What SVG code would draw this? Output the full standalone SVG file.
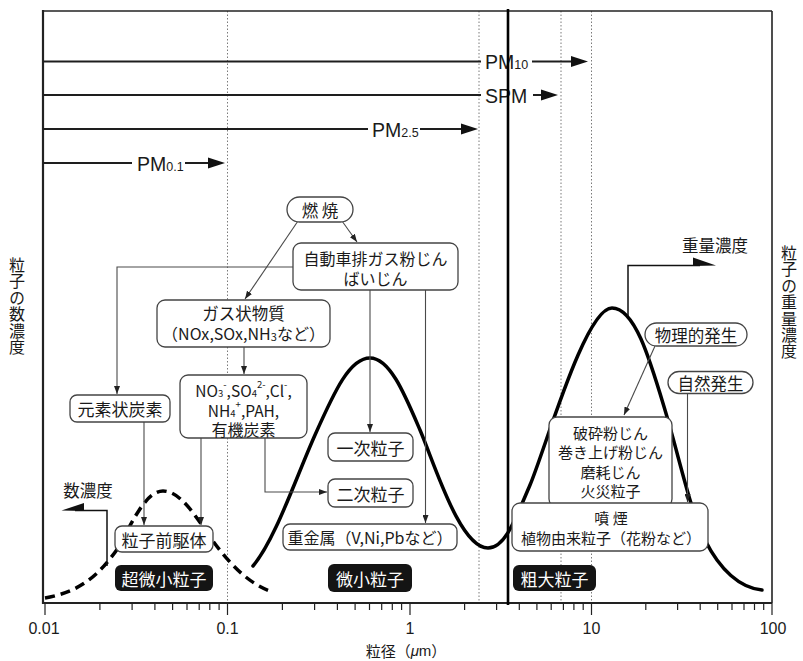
<svg xmlns="http://www.w3.org/2000/svg" width="803" height="661" viewBox="0 0 803 661">
<style>
.bg{fill:#fff}
.box{fill:#fff;stroke:#444;stroke-width:1.3}
.blk{fill:#141414}
.jp{font-family:"Noto Sans CJK JP","Noto Sans",sans-serif;fill:#1a1a1a;text-anchor:middle;dominant-baseline:central}
.w{fill:#fff}
.con{fill:none;stroke:#4a4a4a;stroke-width:1.1}
.dot{stroke:#7a7a7a;stroke-width:1;stroke-dasharray:1.5 2}
.pm{font-family:"Liberation Sans",Arial,sans-serif;font-size:19.5px;fill:#1a1a1a}
.pl{stroke:#1e1e1e;stroke-width:2}
.ax{fill:none;stroke:#222;stroke-width:1.6}
.tick{stroke:#222;stroke-width:1.2}
.num{font-family:"Liberation Sans",Arial,sans-serif;font-size:16px;fill:#1a1a1a;text-anchor:middle}
.curve{fill:none;stroke:#000;stroke-width:3.5;stroke-linecap:round}
.dash{fill:none;stroke:#000;stroke-width:3.5;stroke-dasharray:10 6}
.vt{font-family:"Noto Sans CJK JP","Noto Sans",sans-serif;fill:#1a1a1a;font-size:16px;writing-mode:vertical-rl;letter-spacing:0.4px}
</style>
<defs>
<marker id="ah" viewBox="0 0 8 6" refX="8" refY="3" markerWidth="8" markerHeight="6" orient="auto" markerUnits="userSpaceOnUse">
<path d="M0,0 L8,3 L0,6 z" fill="#222"/>
</marker>
</defs>
<rect class="bg" x="0" y="0" width="803" height="661"/>

<g id="grid">
<line class="dot" x1="227.5" y1="11" x2="227.5" y2="603"/>
<line class="dot" x1="479" y1="11" x2="479" y2="603"/>
<line class="dot" x1="561" y1="11" x2="561" y2="603"/>
<line class="dot" x1="591.5" y1="11" x2="591.5" y2="603"/>
</g>

<g id="frame">
<line class="ax" x1="43" y1="11" x2="772" y2="11"/>
<line class="ax" x1="772" y1="11" x2="772" y2="603"/>
<line x1="43" y1="10" x2="43" y2="604" stroke="#222" stroke-width="2.2"/>
<line x1="43" y1="603" x2="772" y2="603" stroke="#222" stroke-width="2"/>
</g>

<g id="ticks">
<path class="tick" d="M45,603V615M227.5,603V615M410,603V615M591.5,603V615M772,603V615"/>
<path class="tick" d="M99.9,603V610M132.1,603V610M154.9,603V610M172.6,603V610M187,603V610M199.2,603V610M209.8,603V610M219.1,603V610
M282.4,603V610M314.6,603V610M337.4,603V610M355.1,603V610M369.5,603V610M381.7,603V610M392.3,603V610M401.6,603V610
M464.6,603V610M496.6,603V610M519.3,603V610M536.9,603V610M551.2,603V610M563.4,603V610M573.9,603V610M583.2,603V610
M645.8,603V610M677.6,603V610M700.2,603V610M717.7,603V610M732,603V610M744,603V610M754.5,603V610M763.7,603V610"/>
<text class="num" x="44" y="634">0.01</text>
<text class="num" x="227.5" y="634">0.1</text>
<text class="num" x="410" y="634">1</text>
<text class="num" x="591.5" y="634">10</text>
<text class="num" x="773" y="634">100</text>
<text class="jp" x="406" y="650" font-size="15">粒径（<tspan font-style="italic" font-family="Liberation Sans, sans-serif">μ</tspan><tspan font-family="Liberation Sans, sans-serif">m</tspan>）</text>
</g>

<g id="ylabels">
<text class="vt" x="17" y="257">粒子の数濃度</text>
<text class="vt" x="789" y="245">粒子の重量濃度</text>
</g>

<g id="pm-ranges">
<line class="pl" x1="43" y1="61.5" x2="481" y2="61.5"/>
<text class="pm" x="485" y="69">PM<tspan font-size="12.5">10</tspan></text>
<line class="pl" x1="532" y1="61.5" x2="572" y2="61.5"/>
<polygon points="571,56 588,61.5 571,67" fill="#111"/>
<line class="pl" x1="43" y1="95" x2="481" y2="95"/>
<text class="pm" x="485" y="102.5">SPM</text>
<line class="pl" x1="533" y1="95" x2="542" y2="95"/>
<polygon points="541,89.5 558,95 541,100.5" fill="#111"/>
<line class="pl" x1="43" y1="129" x2="368" y2="129"/>
<text class="pm" x="372" y="136.5">PM<tspan font-size="12.5">2.5</tspan></text>
<line class="pl" x1="420" y1="129" x2="462" y2="129"/>
<polygon points="461,123.5 478,129 461,134.5" fill="#111"/>
<line class="pl" x1="43" y1="163" x2="132" y2="163"/>
<text class="pm" x="137" y="170.5">PM<tspan font-size="12.5">0.1</tspan></text>
<line class="pl" x1="185" y1="163" x2="209" y2="163"/>
<polygon points="208,157.5 225,163 208,168.5" fill="#111"/>
</g>

<g id="curves">
<path class="curve" d="M253,566 C275,540 295,480 315,435 C335,390 350,358 370,358 C390,358 405,395 420,430 C435,465 460,548 488,548 C505,548 515,520 530,485 C545,450 585,308 612,308 C635,308 650,360 665,410 C680,460 690,510 705,540 C720,570 740,588 762,590"/>
<path class="dash" d="M45,598 C80,592 100,575 120,545 C135,515 148,491 163,491 C180,491 195,515 210,537 C230,565 250,585 273,592"/>
</g>

<g id="thick-divider">
<line x1="508" y1="9" x2="508" y2="605" stroke="#000" stroke-width="2.6"/>
</g>

<g id="connectors">
<line class="con" x1="298" y1="221" x2="245" y2="299" marker-end="url(#ah)"/>
<line class="con" x1="342" y1="221" x2="357" y2="242" marker-end="url(#ah)"/>
<path class="con" d="M293,267 H117 V394" marker-end="url(#ah)"/>
<line class="con" x1="244" y1="347" x2="244" y2="374" marker-end="url(#ah)"/>
<line class="con" x1="370" y1="290" x2="370" y2="432" marker-end="url(#ah)"/>
<line class="con" x1="425.5" y1="290" x2="425.5" y2="523" marker-end="url(#ah)"/>
<line class="con" x1="144" y1="422" x2="144" y2="525" marker-end="url(#ah)"/>
<line class="con" x1="201" y1="438" x2="201" y2="525" marker-end="url(#ah)"/>
<path class="con" d="M265,438 V492 H327" marker-end="url(#ah)"/>
<line class="con" x1="655" y1="346" x2="624" y2="415" marker-end="url(#ah)"/>
<line class="con" x1="687.5" y1="393" x2="687.5" y2="502" marker-end="url(#ah)"/>
<path fill="none" stroke="#111" stroke-width="1.5" d="M628,316 V265.5 H700"/>
<polygon points="693,257.5 716,265.5 693,266" fill="#111"/>
<path fill="none" stroke="#111" stroke-width="1.5" d="M107,566 V510.5 H75"/>
<polygon points="84,503 61.5,510.5 84,511" fill="#111"/>
</g>

<g id="n-nensho"><rect class="box" x="287" y="197" width="66" height="25" rx="12.5"/><text class="jp" x="320" y="209.5" font-size="16.5">燃 焼</text></g>
<g id="n-jidosha"><rect class="box" x="293" y="243" width="165" height="47" rx="8"/><text class="jp" x="375.5" y="258" font-size="16">自動車排ガス粉じん</text><text class="jp" x="375.5" y="278" font-size="16">ばいじん</text></g>
<g id="n-gas"><rect class="box" x="157" y="300" width="173" height="47" rx="8"/><text class="jp" x="243.5" y="313" font-size="16.5">ガス状物質</text><text class="jp" x="243.5" y="333" font-size="16">（NOx,SOx,NH<tspan font-size="11" baseline-shift="-3">3</tspan>など）</text></g>
<g id="n-ions"><rect class="box" x="180" y="375" width="127" height="63" rx="8"/>
<text class="jp" x="243.5" y="390" font-size="15.5">NO<tspan font-size="9.5" baseline-shift="-3">3</tspan><tspan font-size="9.5" baseline-shift="6">-</tspan>,SO<tspan font-size="9.5" baseline-shift="-3">4</tspan><tspan font-size="9.5" baseline-shift="6">2-</tspan>,Cl<tspan font-size="9.5" baseline-shift="6">-</tspan>,</text>
<text class="jp" x="243.5" y="410" font-size="15.5">NH<tspan font-size="9.5" baseline-shift="-3">4</tspan><tspan font-size="9.5" baseline-shift="6">+</tspan>,PAH,</text>
<text class="jp" x="243.5" y="429" font-size="16">有機炭素</text></g>
<g id="n-genso"><rect class="box" x="70" y="395" width="100" height="27" rx="7"/><text class="jp" x="120" y="408.5" font-size="17">元素状炭素</text></g>
<g id="n-zenkutai"><rect class="box" x="115" y="526" width="98" height="26" rx="7"/><text class="jp" x="164" y="539" font-size="17">粒子前駆体</text></g>
<g id="n-chobisho"><rect class="blk" x="115" y="565" width="98" height="26" rx="6"/><text class="jp w" x="164" y="578" font-size="17">超微小粒子</text></g>
<g id="n-ichiji"><rect class="box" x="328" y="433" width="85" height="28" rx="7"/><text class="jp" x="370.5" y="447" font-size="17">一次粒子</text></g>
<g id="n-niji"><rect class="box" x="328" y="479" width="85" height="28" rx="7"/><text class="jp" x="370.5" y="493" font-size="17">二次粒子</text></g>
<g id="n-jukinzoku"><rect class="box" x="283" y="524" width="174" height="26" rx="7"/><text class="jp" x="370" y="537" font-size="16">重金属（V,Ni,Pbなど）</text></g>
<g id="n-bisho"><rect class="blk" x="328" y="564" width="84" height="28" rx="6"/><text class="jp w" x="370" y="578" font-size="17">微小粒子</text></g>
<g id="n-hasai"><rect class="box" x="549" y="417" width="123" height="90" rx="8"/>
<text class="jp" x="610.5" y="432" font-size="15">破砕粉じん</text>
<text class="jp" x="610.5" y="451.5" font-size="15">巻き上げ粉じん</text>
<text class="jp" x="610.5" y="471" font-size="15">磨耗じん</text>
<text class="jp" x="610.5" y="490" font-size="15">火災粒子</text></g>
<g id="n-funen"><rect class="box" x="512" y="503" width="196" height="48" rx="8"/><text class="jp" x="611" y="517.5" font-size="15">噴 煙</text><text class="jp" x="611" y="537.5" font-size="15">植物由来粒子（花粉など）</text></g>
<g id="n-sodai"><rect class="blk" x="513" y="565" width="83" height="26" rx="6"/><text class="jp w" x="554.5" y="578" font-size="17">粗大粒子</text></g>
<g id="n-butsuri"><rect class="box" x="645" y="323" width="102" height="23" rx="11.5"/><text class="jp" x="696" y="334.5" font-size="16.5">物理的発生</text></g>
<g id="n-shizen"><rect class="box" x="668" y="371.5" width="85" height="22" rx="11"/><text class="jp" x="710.5" y="382.5" font-size="16.5">自然発生</text></g>
<g id="l-juryo"><text class="jp" x="715" y="245" font-size="16.5">重量濃度</text></g>
<g id="l-kazu"><text class="jp" x="88" y="490" font-size="16.5">数濃度</text></g>
</svg>
